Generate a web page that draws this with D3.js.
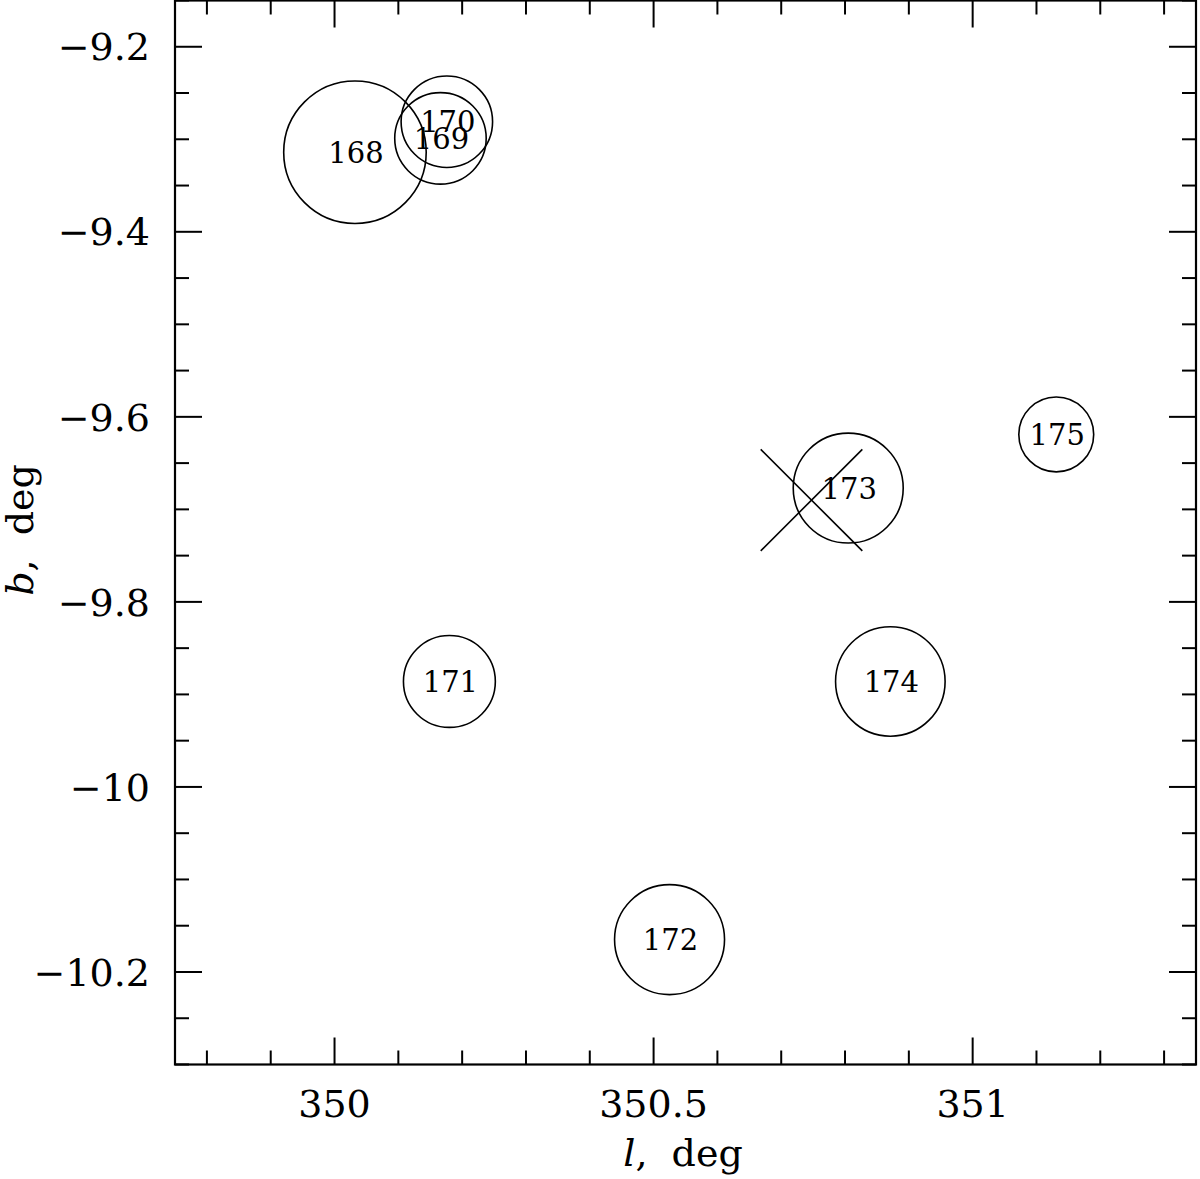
<!DOCTYPE html>
<html>
<head>
<meta charset="utf-8">
<script src="https://cdn.jsdelivr.net/npm/d3@7"></script>
<style>
  html, body { margin: 0; padding: 0; background: #fff; }
  text { font-family: "DejaVu Serif", "Liberation Serif", serif; fill: #000; }
</style>
</head>
<body>
<svg id="chart" width="1200" height="1179"></svg>
<script>
// ---- data ----
const ids       = ["168", "169", "170", "171", "172", "173", "174", "175"];
const lValues   = [350.032, 350.166, 350.176, 350.180, 350.525, 350.805, 350.871, 351.131];
const bValues   = [-9.314, -9.299, -9.281, -9.886, -10.165, -9.677, -9.886, -9.619];
const radiusArcmin = [6.70, 4.30, 4.30, 4.32, 5.17, 5.17, 5.15, 3.52];

const crossL = [350.7475];
const crossB = [-9.690];

const xMajorTicks = [350, 350.5, 351];
const xTickLabels = ["350", "350.5", "351"];
const yMajorTicks = [-9.2, -9.4, -9.6, -9.8, -10, -10.2];
const yTickLabels = ["\u22129.2", "\u22129.4", "\u22129.6", "\u22129.8", "\u221210", "\u221210.2"];

const xDomain = [349.75, 351.35];
const yDomain = [-10.3, -9.15];

// ---- layout ----
const svg = d3.select("#chart");
const X0 = 175, X1 = 1196, Y0 = 0.5, Y1 = 1064.5;
const x = d3.scaleLinear().domain(xDomain).range([X0, X1]);
const y = d3.scaleLinear().domain(yDomain).range([Y1, Y0]);
const pxPerDeg = x(1) - x(0);

const majorLen = 27, minorLen = 14;
const tickFont = 38;

// minor ticks
const xMinor = d3.range(Math.ceil(xDomain[0] * 10), Math.floor(xDomain[1] * 10) + 1).map(v => v / 10)
  .filter(v => !xMajorTicks.some(m => Math.abs(m - v) < 1e-9));
const yMinor = d3.range(Math.ceil(yDomain[0] * 20), Math.floor(yDomain[1] * 20) + 1).map(v => v / 20)
  .filter(v => !yMajorTicks.some(m => Math.abs(m - v) < 1e-9));

const g = svg.append("g").attr("stroke", "#000").attr("fill", "none");

// bottom/top ticks
function xTicks(vals, len) {
  vals.forEach(v => {
    g.append("line").attr("x1", x(v)).attr("x2", x(v)).attr("y1", Y1).attr("y2", Y1 - len).attr("stroke-width", 2);
    g.append("line").attr("x1", x(v)).attr("x2", x(v)).attr("y1", Y0).attr("y2", Y0 + len).attr("stroke-width", 2);
  });
}
function yTicks(vals, len) {
  vals.forEach(v => {
    g.append("line").attr("y1", y(v)).attr("y2", y(v)).attr("x1", X0).attr("x2", X0 + len).attr("stroke-width", 2);
    g.append("line").attr("y1", y(v)).attr("y2", y(v)).attr("x1", X1).attr("x2", X1 - len).attr("stroke-width", 2);
  });
}
xTicks(xMajorTicks, majorLen);
xTicks(xMinor, minorLen);
yTicks(yMajorTicks, majorLen);
yTicks(yMinor, minorLen);

// frame
g.append("rect").attr("x", X0).attr("y", Y0).attr("width", X1 - X0).attr("height", Y1 - Y0)
  .attr("stroke-width", 2.2);

// tick labels
svg.append("g").selectAll("text").data(xMajorTicks).join("text")
  .attr("x", d => x(d)).attr("y", 1116.5)
  .attr("text-anchor", "middle").attr("font-size", tickFont)
  .text((d, i) => xTickLabels[i]);

svg.append("g").selectAll("text").data(yMajorTicks).join("text")
  .attr("x", 150).attr("y", d => y(d)).attr("dy", "0.36em")
  .attr("text-anchor", "end").attr("font-size", tickFont)
  .text((d, i) => yTickLabels[i]);

// axis titles
const xt = svg.append("text").attr("x", 683).attr("y", 1166).attr("text-anchor", "middle")
  .attr("font-size", tickFont).style("white-space", "pre");
xt.append("tspan").attr("font-style", "italic").text("l");
xt.append("tspan").text(",  deg");

const yt = svg.append("text").attr("transform", "translate(33,530) rotate(-90)").attr("text-anchor", "middle")
  .attr("font-size", tickFont).style("white-space", "pre");
yt.append("tspan").attr("font-style", "italic").text("b");
yt.append("tspan").text(",  deg");

// circles
const pts = ids.map((id, i) => ({ id, l: lValues[i], b: bValues[i], r: radiusArcmin[i] }));
const cg = svg.append("g").attr("clip-path", null);
cg.selectAll("circle").data(pts).join("circle")
  .attr("cx", d => x(d.l)).attr("cy", d => y(d.b)).attr("r", d => d.r / 60 * pxPerDeg)
  .attr("fill", "none").attr("stroke", "#000").attr("stroke-width", 1.6);

cg.selectAll("text.lbl").data(pts).join("text").attr("class", "lbl")
  .attr("x", d => x(d.l) + 1).attr("y", d => y(d.b)).attr("dy", "0.37em")
  .attr("text-anchor", "middle").attr("font-size", 29)
  .text(d => d.id);

// cross marker
const crossHalf = 50.8;
crossL.forEach((l, i) => {
  const cx = x(l), cy = y(crossB[i]);
  cg.append("line").attr("x1", cx - crossHalf).attr("y1", cy - crossHalf).attr("x2", cx + crossHalf).attr("y2", cy + crossHalf)
    .attr("stroke", "#000").attr("stroke-width", 1.6);
  cg.append("line").attr("x1", cx - crossHalf).attr("y1", cy + crossHalf).attr("x2", cx + crossHalf).attr("y2", cy - crossHalf)
    .attr("stroke", "#000").attr("stroke-width", 1.6);
});
</script>
</body>
</html>
